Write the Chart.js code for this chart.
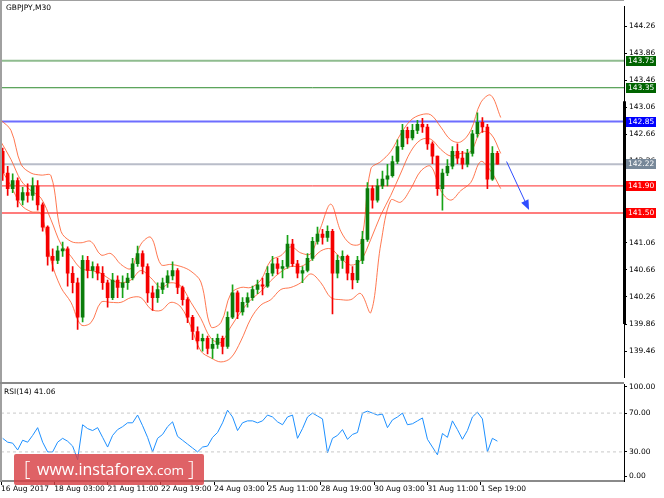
<!DOCTYPE html>
<html>
<head>
<meta charset="utf-8">
<script src="https://cdn.jsdelivr.net/npm/chart.js@4.4.0/dist/chart.umd.min.js"></script>
<style>
  body { margin: 0; background: #fff; width: 664px; height: 498px; position: relative; overflow: hidden; }
  #main { position: absolute; left: 0; top: 0; }
  #rsi { position: absolute; left: 0; top: 376px; }
  #wm {
    position: absolute; left: 14px; top: 454px; width: 190px; height: 31px;
    background: rgba(216, 64, 68, 0.82); border-radius: 2px; color: #fff;
    font-family: "Open Sans", sans-serif; white-space: pre; line-height: 31px;
  }
  #wm .b { position: absolute; top: -1px; font-size: 20px; font-weight: 300; }
  #wm .t { position: absolute; left: 23px; top: 0; font-size: 16px; }
  #wm .t small { font-size: 13.5px; }
</style>
</head>
<body>
<canvas id="main" width="664" height="384"></canvas>
<canvas id="rsi" width="664" height="122"></canvas>
<div id="wm"><span class="b" style="left:10px">[</span><span class="t">www.instaforex<small>.com</small></span><span class="b" style="left:174px">]</span></div>
<script>
// GBPJPY M30, one drawn candle per 6 bars (3 hours)
const opens = [142.41,142.09,141.86,141.98,141.69,141.80,141.76,141.90,141.62,141.29,
  140.86,140.80,140.94,140.97,140.61,140.47,139.96,140.80,140.65,140.71,
  140.61,140.47,140.25,140.51,140.40,140.47,140.54,140.75,140.90,140.71,
  140.32,140.25,140.37,140.47,140.57,140.65,140.40,140.22,139.96,139.75,
  139.61,139.65,139.50,139.56,139.65,139.53,139.96,140.32,140.04,140.18,
  140.25,140.37,140.44,140.42,140.61,140.75,140.68,140.71,141.04,140.75,
  140.61,140.65,140.83,141.08,141.19,141.14,141.23,140.61,140.80,140.86,
  140.61,140.51,140.80,141.11,141.86,141.69,141.90,142.00,142.05,142.26,
  142.48,142.72,142.61,142.72,142.81,142.77,142.52,142.34,141.86,142.09,
  142.19,142.41,142.31,142.22,142.38,142.67,142.84,142.77,142.00,142.38];
const highs = [142.46,142.19,142.08,142.02,141.88,141.93,142.02,141.98,141.65,141.31,
  140.97,141.01,141.07,141.00,140.71,140.54,140.87,140.86,140.78,140.75,
  140.71,140.51,140.61,140.57,140.57,140.61,140.83,141.01,140.94,140.75,
  140.42,140.47,140.54,140.65,140.78,140.68,140.42,140.25,139.99,139.82,
  139.71,139.68,139.65,139.71,139.68,140.04,140.44,140.35,140.25,140.32,
  140.42,140.51,140.54,140.71,140.86,140.83,140.80,141.17,141.11,140.80,
  140.71,140.90,141.14,141.29,141.26,141.31,141.26,140.88,140.94,140.88,
  140.71,140.86,141.23,141.95,141.90,142.00,142.12,142.22,142.34,142.58,
  142.81,142.77,142.81,142.87,142.90,142.81,142.55,142.34,142.15,142.29,
  142.48,142.52,142.41,142.44,142.72,142.98,142.91,142.81,142.48,142.41];
const lows = [141.98,141.76,141.80,141.59,141.62,141.66,141.69,141.54,141.23,140.73,
  140.64,140.75,140.86,140.42,140.32,139.78,139.89,140.54,140.54,140.51,
  140.37,140.11,140.22,140.25,140.25,140.37,140.51,140.71,140.60,140.18,
  140.06,140.18,140.31,140.40,140.51,140.31,140.14,139.88,139.63,139.49,
  139.46,139.42,139.35,139.50,139.42,139.50,139.94,139.94,139.99,140.11,
  140.21,140.31,140.29,140.40,140.57,140.60,140.54,140.68,140.71,140.54,
  140.47,140.63,140.80,141.04,141.04,141.08,140.01,140.54,140.68,140.51,
  140.38,140.47,140.75,141.08,141.57,141.66,141.86,141.90,142.03,142.23,
  142.44,142.52,142.58,142.67,142.69,142.44,142.23,141.76,141.54,142.05,
  142.15,142.23,142.15,142.18,142.34,142.62,142.69,141.86,141.98,142.22];
const closes = [142.09,141.86,141.98,141.69,141.80,141.76,141.90,141.62,141.29,140.86,
  140.80,140.94,140.97,140.61,140.47,139.96,140.80,140.65,140.71,140.61,
  140.47,140.25,140.51,140.40,140.47,140.54,140.75,140.90,140.71,140.32,
  140.25,140.37,140.47,140.57,140.65,140.40,140.22,139.96,139.75,139.61,
  139.65,139.50,139.56,139.65,139.53,139.96,140.32,140.04,140.18,140.25,
  140.37,140.44,140.42,140.61,140.75,140.68,140.71,141.04,140.75,140.61,
  140.65,140.83,141.08,141.19,141.14,141.23,140.61,140.80,140.86,140.61,
  140.51,140.80,141.11,141.86,141.69,141.90,142.00,142.05,142.26,142.48,
  142.72,142.61,142.72,142.81,142.77,142.52,142.34,141.86,142.09,142.19,
  142.41,142.31,142.22,142.38,142.67,142.84,142.77,142.00,142.38,142.22];

// Bollinger bands, one point per 12 bars
const bandUpper = [142.87,142.72,142.22,142.09,142.06,142.05,141.23,141.08,141.06,141.08,
  140.88,140.90,140.74,140.68,141.04,141.14,140.74,140.74,140.71,140.64,
  140.48,139.82,139.88,140.31,140.40,140.40,140.51,140.80,140.87,141.00,
  140.91,140.90,141.29,141.63,141.23,141.04,141.06,142.15,142.26,142.41,
  142.67,142.87,142.95,142.95,142.77,142.58,142.55,142.72,143.13,143.24,
  142.91];
const bandMid = [142.55,142.29,141.98,141.83,141.72,141.40,141.04,140.86,140.68,140.65,
  140.61,140.51,140.47,140.51,140.65,140.54,140.40,140.47,140.42,140.18,
  139.94,139.65,139.59,139.82,140.04,140.22,140.34,140.50,140.63,140.71,
  140.71,140.80,140.94,140.97,140.83,140.73,140.80,141.11,141.47,141.76,
  142.09,142.41,142.58,142.59,142.44,142.34,142.38,142.41,142.69,142.67,
  142.38];
const bandLower = [142.15,141.90,141.62,141.52,141.49,140.80,140.40,140.18,139.85,139.88,
  140.18,140.18,140.18,140.25,140.25,140.08,140.06,140.18,140.11,139.82,
  139.46,139.36,139.30,139.36,139.61,139.94,140.14,140.22,140.37,140.40,
  140.47,140.60,140.47,140.25,140.22,140.22,140.31,140.03,141.04,141.69,
  141.66,141.86,142.12,142.19,141.83,141.69,141.83,141.95,142.26,142.12,
  141.86];

// RSI(14), one value per drawn candle
const rsi14 = [44,40,39,32,42,40,47,55,40,30,
  30,40,44,41,36,22,58,54,52,55,
  45,35,47,53,56,60,60,68,57,45,
  30,44,48,56,61,46,42,38,34,30,
  35,36,45,50,60,73,66,52,60,62,
  62,60,62,68,66,61,58,66,68,44,
  54,66,70,67,64,29,44,47,53,43,
  48,50,70,72,70,68,69,55,63,66,
  70,58,59,62,65,43,35,27,49,45,
  62,53,43,52,66,71,64,30,44,41.06];

const levels = [143.75, 143.35, 142.85, 142.22, 141.90, 141.50];
const priceTicks = [139.46, 139.86, 140.26, 140.66, 141.06, 141.46, 141.86, 142.26, 142.66, 143.06, 143.46, 143.86, 144.26];
const timeLabels = ['16 Aug 2017', '18 Aug 03:00', '21 Aug 11:00', '22 Aug 19:00', '24 Aug 03:00',
  '25 Aug 11:00', '28 Aug 19:00', '30 Aug 03:00', '31 Aug 11:00', '1 Sep 19:00'];
const rsiTicks = [5, 30, 70, 97];
const rsiLevels = [30, 70];
const arrowBars = [607, 633];
const arrowPrices = [142.26, 141.57];
const rangeMark = [139.86, 143.15];

const STEP = 6, BAND_STEP = 12, LABEL_STEP = 64, X_MAX = 748;
const GREEN = '#0b7d0b', GREEN_WICK = '#17a317', RED = '#f50000';
const FONT = { family: '"DejaVu Sans", sans-serif', size: 7.5 };
const levelStyle = [
  { line: '#8fbc8f', width: 2, tag: '#006400' },
  { line: '#2e8b2e', width: 1, tag: '#006400' },
  { line: '#6d6dff', width: 2, tag: '#0000ff' },
  { line: '#b9bdc9', width: 2, tag: '#778899' },
  { line: '#ff2a2a', width: 1, tag: '#ff0000' },
  { line: '#ff7c7c', width: 2, tag: '#ff0000' }
];
const isUp = i => closes[i] >= opens[i];

const datasets = [];
levels.forEach((lv, k) => {
  datasets.push({
    type: 'line', data: [{ x: 0, y: lv }, { x: X_MAX, y: lv }],
    borderColor: levelStyle[k].line, borderWidth: levelStyle[k].width,
    pointRadius: 0, order: 10
  });
});
[bandUpper, bandMid, bandLower].forEach(band => {
  datasets.push({
    type: 'line', data: band.map((v, k) => ({ x: k * BAND_STEP, y: v })),
    borderColor: 'rgba(255,96,50,0.85)', borderWidth: 1, pointRadius: 0,
    tension: 0.35, order: 5
  });
});
datasets.push({
  type: 'bar', data: highs.map((h, i) => ({ x: i * STEP + 2, y: [lows[i], h] })),
  backgroundColor: c => isUp(c.dataIndex) ? GREEN_WICK : RED,
  barThickness: 1, grouped: false, order: 2
});
datasets.push({
  type: 'bar', data: opens.map((o, i) => ({ x: i * STEP + 2, y: [o, closes[i]] })),
  backgroundColor: c => isUp(c.dataIndex) ? GREEN : RED,
  barThickness: 3, minBarLength: 1, grouped: false, order: 1
});
datasets.push({
  type: 'line', data: arrowBars.map((b, i) => ({ x: b, y: arrowPrices[i] })),
  borderColor: '#2f4dff', borderWidth: 1, pointRadius: 0, order: 0
});

const mainDecor = {
  id: 'mainDecor',
  afterDraw(chart) {
    const { ctx, chartArea: a, scales: { x, y } } = chart;
    ctx.save();
    ctx.fillStyle = '#a0a0a0';
    ctx.fillRect(0, 0, a.right, 1);
    ctx.fillRect(0, 0, 2, 384);
    ctx.fillStyle = '#8a8a8a';
    ctx.fillRect(0, 382, a.right, 2);
    // arrow head
    const x0 = x.getPixelForValue(arrowBars[0]), y0 = y.getPixelForValue(arrowPrices[0]);
    const x1 = x.getPixelForValue(arrowBars[1]), y1 = y.getPixelForValue(arrowPrices[1]);
    const ang = Math.atan2(y1 - y0, x1 - x0);
    ctx.fillStyle = '#2f4dff';
    ctx.beginPath();
    ctx.moveTo(x1 + 2 * Math.cos(ang), y1 + 2 * Math.sin(ang));
    ctx.lineTo(x1 - 8 * Math.cos(ang) - 4 * Math.sin(ang), y1 - 8 * Math.sin(ang) + 4 * Math.cos(ang));
    ctx.lineTo(x1 - 8 * Math.cos(ang) + 4 * Math.sin(ang), y1 - 8 * Math.sin(ang) - 4 * Math.cos(ang));
    ctx.closePath();
    ctx.fill();
    // thick part of the price axis
    ctx.fillStyle = '#000';
    const r1 = y.getPixelForValue(rangeMark[1]), r0 = y.getPixelForValue(rangeMark[0]);
    ctx.fillRect(a.right - 1, r1, 3, r0 - r1);
    // price tags
    ctx.font = FONT.size + 'px ' + FONT.family;
    ctx.textBaseline = 'middle';
    levels.forEach((lv, k) => {
      const py = Math.round(y.getPixelForValue(lv));
      ctx.fillStyle = levelStyle[k].tag;
      ctx.fillRect(a.right + 2, py - 5, 30, 10);
      ctx.fillStyle = '#fff';
      ctx.fillText(lv.toFixed(2), a.right + 4, py + 0.5);
    });
    ctx.fillStyle = '#000';
    ctx.fillText('GBPJPY,M30', 6, 8);
    ctx.restore();
  }
};

new Chart(document.getElementById('main'), {
  type: 'bar',
  data: { datasets },
  options: {
    responsive: false, animation: false, devicePixelRatio: 1,
    layout: { padding: { left: 1, top: 1, right: 0, bottom: 2 } },
    plugins: { legend: { display: false }, tooltip: { enabled: false } },
    scales: {
      x: { type: 'linear', min: 0, max: X_MAX, offset: false, display: false },
      y: {
        position: 'right', min: 139.07, max: 144.55,
        afterBuildTicks: s => { s.ticks = priceTicks.map(v => ({ value: v })); },
        afterFit: s => { s.width = 40; },
        ticks: { callback: v => v.toFixed(2), font: FONT, color: '#000', padding: 2 },
        grid: { drawOnChartArea: false, tickLength: 3, tickColor: '#000' },
        border: { color: '#000', width: 1 }
      }
    }
  },
  plugins: [mainDecor]
});

const rsiDecor = {
  id: 'rsiDecor',
  afterDraw(chart) {
    const { ctx, chartArea: a } = chart;
    ctx.save();
    ctx.fillStyle = '#a0a0a0';
    ctx.fillRect(0, a.top, 2, a.bottom - a.top);
    ctx.font = FONT.size + 'px ' + FONT.family;
    ctx.textBaseline = 'middle';
    ctx.fillStyle = '#000';
    ctx.fillText('RSI(14) 41.06', 4, a.top + 8);
    ctx.restore();
  }
};

const rsiSets = rsiLevels.map(v => ({
  type: 'line', data: [{ x: 0, y: v }, { x: X_MAX, y: v }],
  borderColor: '#c8c8c8', borderWidth: 1, borderDash: [3, 3], pointRadius: 0
}));
rsiSets.push({
  type: 'line', data: rsi14.map((v, i) => ({ x: i * STEP + 2, y: v })),
  borderColor: '#1e90ff', borderWidth: 1, pointRadius: 0
});

new Chart(document.getElementById('rsi'), {
  type: 'line',
  data: { datasets: rsiSets },
  options: {
    responsive: false, animation: false, devicePixelRatio: 1,
    layout: { padding: { left: 1, top: 8, right: 0, bottom: 0 } },
    plugins: { legend: { display: false }, tooltip: { enabled: false } },
    scales: {
      x: {
        type: 'linear', min: 0, max: X_MAX, offset: false,
        afterBuildTicks: s => { s.ticks = timeLabels.map((t, k) => ({ value: k * LABEL_STEP })); },
        afterFit: s => { s.height = 17; },
        ticks: { callback: (v, i) => timeLabels[i], align: 'start', autoSkip: false, maxRotation: 0, font: FONT, color: '#000', padding: 0 },
        grid: { drawOnChartArea: false, tickLength: 4, tickColor: '#000' },
        border: { color: '#8a8a8a', width: 2 }
      },
      y: {
        position: 'right', min: 0, max: 100,
        afterBuildTicks: s => { s.ticks = rsiTicks.map(v => ({ value: v })); },
        afterFit: s => { s.width = 40; },
        ticks: { callback: v => (v < 10 ? 0 : v > 90 ? 100 : v).toFixed(2), font: FONT, color: '#000', padding: 2 },
        grid: { drawOnChartArea: false, tickLength: 3, tickColor: '#000' },
        border: { color: '#000', width: 1 }
      }
    }
  },
  plugins: [rsiDecor]
});
</script>
</body>
</html>
